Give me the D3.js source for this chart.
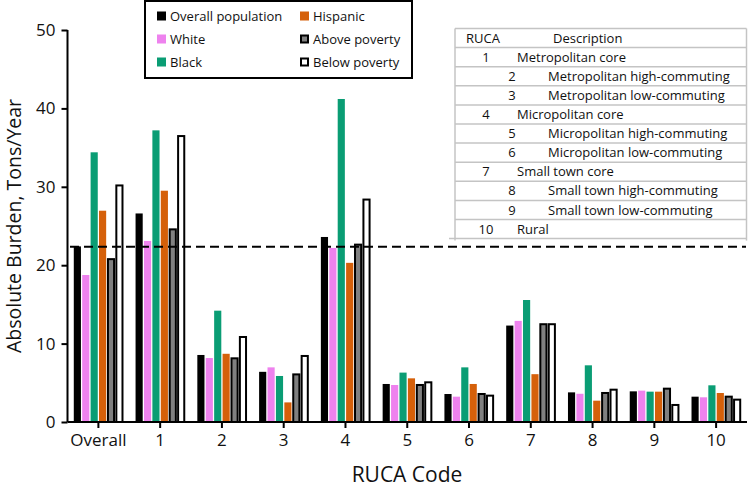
<!DOCTYPE html>
<html><head><meta charset="utf-8">
<script src="https://cdnjs.cloudflare.com/ajax/libs/d3/7.8.5/d3.min.js"></script>
<style>
body{margin:0;background:#fff;}
svg{display:block;font-family:"Open Sans",sans-serif;}
</style></head>
<body><svg id="chart" width="749" height="488"></svg>
<script>
const categories = ["Overall","1","2","3","4","5","6","7","8","9","10"];
const seriesNames = ["Overall population","White","Black","Hispanic","Above poverty","Below poverty"];
const overallPop = [22.4, 26.6, 8.55, 6.4, 23.6, 4.85, 3.57, 12.3, 3.78, 3.91, 3.23];
const white      = [18.75, 23.1, 8.16, 6.97, 22.2, 4.72, 3.23, 12.9, 3.6, 4.0, 3.15];
const black      = [34.4, 37.2, 14.2, 5.87, 41.2, 6.3, 6.97, 15.56, 7.23, 3.87, 4.68];
const hispanic   = [26.95, 29.5, 8.7, 2.5, 20.3, 5.57, 4.85, 6.1, 2.72, 3.87, 3.7];
const abovePov   = [20.9, 24.7, 8.25, 6.2, 22.75, 4.85, 3.7, 12.6, 3.83, 4.38, 3.36];
const belowPov   = [30.3, 36.6, 10.97, 8.55, 28.5, 5.19, 3.49, 12.6, 4.25, 2.3, 2.98];
const referenceLine = 22.35;
const yTicks = [0, 10, 20, 30, 40, 50];
const rucaCodes = ["1","2","3","4","5","6","7","8","9","10"];
const rucaDescriptions = ["Metropolitan core","Metropolitan high-commuting","Metropolitan low-commuting",
  "Micropolitan core","Micropolitan high-commuting","Micropolitan low-commuting",
  "Small town core","Small town high-commuting","Small town low-commuting","Rural"];
const rucaIndent = [false,true,true,false,true,true,false,true,true,false];

const seriesValues = [overallPop, white, black, hispanic, abovePov, belowPov];
const fills = ["#000000","#ee82ee","#0a9d74","#d5600a","#808080","#ffffff"];
const outlined = [false,false,false,false,true,true];

const svg = d3.select("#chart");
const x0 = d3.scaleBand().domain(categories).range([67.5, 747]).padding(0);
const groupW = 49.2;
const x1 = d3.scaleBand().domain(seriesNames).range([0, groupW]).paddingInner(0.15).paddingOuter(0);
const y = d3.scaleLinear().domain([0, 50]).range([422, 30]);

// bars
const data = [];
categories.forEach((c, i) => seriesNames.forEach((s, j) => data.push({c, s, j, v: seriesValues[j][i]})));
svg.append("g").selectAll("rect").data(data).join("rect")
  .attr("x", d => x0(d.c) + (x0.bandwidth() - groupW) / 2 + x1(d.s) + (outlined[d.j] ? 0.5 : 0))
  .attr("width", d => x1.bandwidth() - (outlined[d.j] ? 1 : 0))
  .attr("y", d => y(d.v) + (outlined[d.j] ? 1 : 0))
  .attr("height", d => y(0) - y(d.v) - (outlined[d.j] ? 1 : 0))
  .attr("fill", d => fills[d.j])
  .attr("stroke", d => outlined[d.j] ? "#000" : "none")
  .attr("stroke-width", 2);

// dashed reference
svg.append("line")
  .attr("x1", 70).attr("x2", 746)
  .attr("y1", y(referenceLine)).attr("y2", y(referenceLine))
  .attr("stroke", "#000").attr("stroke-width", 2).attr("stroke-dasharray", "9,5");

// axes
const yAxis = svg.append("g").attr("transform", "translate(67.5,0)")
  .call(d3.axisLeft(y).tickValues(yTicks).tickSize(6).tickPadding(6).tickSizeOuter(0));
const xAxis = svg.append("g").attr("transform", "translate(0,422)")
  .call(d3.axisBottom(x0).tickSize(6).tickPadding(6).tickSizeOuter(0));
[yAxis, xAxis].forEach(a => {
  a.select(".domain").attr("stroke", "#000").attr("stroke-width", 2);
  a.selectAll(".tick line").attr("stroke", "#000").attr("stroke-width", 2);
  a.selectAll(".tick text").attr("font-family", "Open Sans").attr("font-size", 17).attr("fill", "#111");
});
xAxis.select(".domain").attr("d", "M67.5,0H747");
yAxis.select(".domain").attr("d", "M0,422V30");

// axis titles
svg.append("text").attr("x", 407).attr("y", 482).attr("text-anchor", "middle")
  .attr("font-size", 21).attr("fill", "#111").text("RUCA Code");
svg.append("text").attr("transform", "translate(20.5,226) rotate(-90)").attr("text-anchor", "middle")
  .attr("font-size", 19.5).attr("fill", "#111").text("Absolute Burden, Tons/Year");

// legend
const lg = svg.append("g");
lg.append("rect").attr("x", 145).attr("y", 1).attr("width", 267).attr("height", 77)
  .attr("fill", "#fff").attr("stroke", "#000").attr("stroke-width", 2);
seriesNames.forEach((s, j) => {
  const col = Math.floor(j / 3), row = j % 3;
  const sx = col === 0 ? 157 : 300, cy = 16 + row * 23;
  lg.append("rect").attr("x", sx + (outlined[j] ? 1 : 0)).attr("y", cy - 4.5 + (outlined[j] ? 1 : 0))
    .attr("width", outlined[j] ? 7 : 9).attr("height", outlined[j] ? 7 : 9)
    .attr("fill", fills[j]).attr("stroke", outlined[j] ? "#000" : "none").attr("stroke-width", 2);
  lg.append("text").attr("x", sx + 13).attr("y", cy).attr("dy", "0.35em")
    .attr("font-size", 13).attr("fill", "#111").text(s);
});

// table
const tg = svg.append("g");
const tTop = 28.5, rowH = 19.1, tLeft = 455, tRight = 746.5;
const nRows = rucaCodes.length + 1;
tg.append("rect").attr("x", tLeft).attr("y", tTop).attr("width", tRight - tLeft).attr("height", rowH * nRows)
  .attr("fill", "#fff").attr("stroke", "none");
for (let i = 0; i <= nRows; i++) {
  tg.append("line").attr("x1", i === nRows ? 449 : tLeft).attr("x2", tRight)
    .attr("y1", tTop + i * rowH).attr("y2", tTop + i * rowH)
    .attr("stroke", "#c4c4c4").attr("stroke-width", 1.5);
}
[tLeft, tRight].forEach(xx => tg.append("line").attr("x1", xx).attr("x2", xx)
  .attr("y1", tTop).attr("y2", tTop + rowH * nRows + 2).attr("stroke", "#c4c4c4").attr("stroke-width", 1.5));
tg.append("text").attr("x", 483).attr("y", tTop + rowH / 2).attr("dy", "0.35em").attr("text-anchor", "middle")
  .attr("font-size", 13).attr("fill", "#111").text("RUCA");
tg.append("text").attr("x", 553).attr("y", tTop + rowH / 2).attr("dy", "0.35em")
  .attr("font-size", 13).attr("fill", "#111").text("Description");
rucaCodes.forEach((c, i) => {
  const cy = tTop + rowH * (i + 1.5);
  tg.append("text").attr("x", rucaIndent[i] ? 512 : 486).attr("y", cy).attr("dy", "0.35em")
    .attr("text-anchor", "middle").attr("font-size", 13).attr("fill", "#111").text(c);
  tg.append("text").attr("x", rucaIndent[i] ? 548 : 517).attr("y", cy).attr("dy", "0.35em")
    .attr("font-size", 13).attr("fill", "#111").text(rucaDescriptions[i]);
});
</script></body></html>
